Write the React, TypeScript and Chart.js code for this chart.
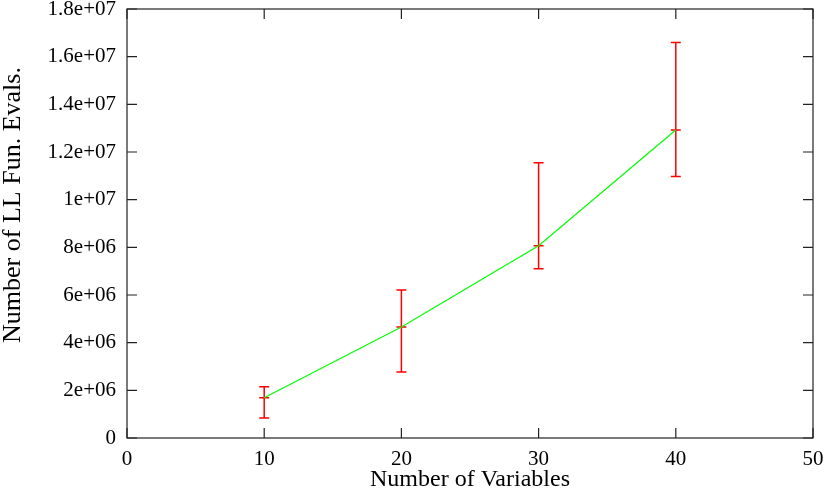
import React, { useEffect, useRef } from "react";
import { Chart, registerables } from "chart.js";

Chart.register(...registerables);

const numVariables = [10, 20, 30, 40];
const meanEvals = [1.69e6, 4.66e6, 8.07e6, 12.92e6];
const lowEvals = [0.84e6, 2.77e6, 7.1e6, 10.97e6];
const highEvals = [2.15e6, 6.21e6, 11.55e6, 16.59e6];
const yTickLabels = ["0", "2e+06", "4e+06", "6e+06", "8e+06", "1e+07", "1.2e+07", "1.4e+07", "1.6e+07", "1.8e+07"];
const xTickLabels = ["0", "10", "20", "30", "40", "50"];
const xTitle = "Number of Variables";
const yTitle = "Number of LL Fun. Evals.";

const FONT = "'Liberation Serif', 'Times New Roman', serif";

const framePlugin = {
  id: "gnuframe",
  beforeDatasetsDraw(chart: any) {
    const { ctx, scales } = chart;
    const xs = scales.x, ys = scales.y;
    ctx.save();
    ctx.strokeStyle = "#ff0000";
    ctx.lineWidth = 1.5;
    for (let i = 0; i < numVariables.length; i++) {
      const px = xs.getPixelForValue(numVariables[i]);
      const pl = ys.getPixelForValue(lowEvals[i]);
      const ph = ys.getPixelForValue(highEvals[i]);
      const pm = ys.getPixelForValue(meanEvals[i]);
      ctx.beginPath();
      ctx.moveTo(px, pl);
      ctx.lineTo(px, ph);
      for (const py of [pl, ph, pm]) {
        ctx.moveTo(px - 5, py);
        ctx.lineTo(px + 5, py);
      }
      ctx.stroke();
    }
    ctx.restore();
  },
  afterDraw(chart: any) {
    const { ctx, chartArea: a, scales } = chart;
    const xs = scales.x, ys = scales.y;
    ctx.save();
    ctx.strokeStyle = "#222";
    ctx.lineWidth = 1.2;
    ctx.strokeRect(a.left, a.top, a.right - a.left, a.bottom - a.top);
    ctx.beginPath();
    const tl = 10;
    xs.ticks.forEach((t: any) => {
      const px = xs.getPixelForValue(t.value);
      ctx.moveTo(px, a.bottom);
      ctx.lineTo(px, a.bottom - tl);
      ctx.moveTo(px, a.top);
      ctx.lineTo(px, a.top + tl);
    });
    ys.ticks.forEach((t: any) => {
      const py = ys.getPixelForValue(t.value);
      ctx.moveTo(a.left, py);
      ctx.lineTo(a.left + tl, py);
      ctx.moveTo(a.right, py);
      ctx.lineTo(a.right - tl, py);
    });
    ctx.stroke();
    // y axis title
    ctx.fillStyle = "#000";
    ctx.font = `26px ${FONT}`;
    ctx.textAlign = "center";
    ctx.textBaseline = "middle";
    ctx.translate(13, 205);
    ctx.rotate(-Math.PI / 2);
    ctx.fillText(yTitle, 0, 0);
    ctx.restore();
  },
};

export default function App() {
  const ref = useRef<HTMLCanvasElement>(null);
  useEffect(() => {
    if (!ref.current) return;
    const chart = new Chart(ref.current, {
      type: "line",
      data: {
        datasets: [
          {
            data: numVariables.map((x, i) => ({ x, y: meanEvals[i] })),
            borderColor: "#00ff00",
            borderWidth: 1.2,
            pointRadius: 0,
            fill: false,
            tension: 0,
          },
        ],
      },
      options: {
        animation: false,
        responsive: false,
        layout: { padding: { left: 0, top: 9, right: 17, bottom: 0 } },
        plugins: { legend: { display: false }, tooltip: { enabled: false } },
        scales: {
          x: {
            type: "linear",
            min: 0,
            max: 50,
            ticks: {
              stepSize: 10,
              color: "#000",
              font: { family: FONT, size: 21 },
              padding: 9,
              maxRotation: 0,
              callback: (v: any) => xTickLabels[Math.round(Number(v) / 10)] ?? "",
            },
            grid: { display: false, drawTicks: false },
            border: { display: false },
            title: {
              display: true,
              text: xTitle,
              color: "#000",
              font: { family: FONT, size: 24 },
              padding: { top: 0, bottom: 0 },
            },
            afterFit: (s: any) => {
              s.height = 56;
              s.paddingLeft = 0;
              s.paddingRight = 0;
            },
          },
          y: {
            type: "linear",
            min: 0,
            max: 1.8e7,
            ticks: {
              stepSize: 2e6,
              color: "#000",
              font: { family: FONT, size: 21 },
              padding: 11,
              callback: (v: any) => yTickLabels[Math.round(Number(v) / 2e6)] ?? "",
            },
            grid: { display: false, drawTicks: false },
            border: { display: false },
            title: { display: false },
            afterFit: (s: any) => {
              s.width = 127;
              s.paddingTop = 0;
              s.paddingBottom = 0;
            },
          },
        },
      },
      plugins: [framePlugin],
    });
    return () => chart.destroy();
  }, []);
  return (
    <div style={{ position: "fixed", left: 0, top: 0, width: 830, height: 494, background: "#fff" }}>
      <canvas ref={ref} width={830} height={494} style={{ width: 830, height: 494 }} />
    </div>
  );
}
